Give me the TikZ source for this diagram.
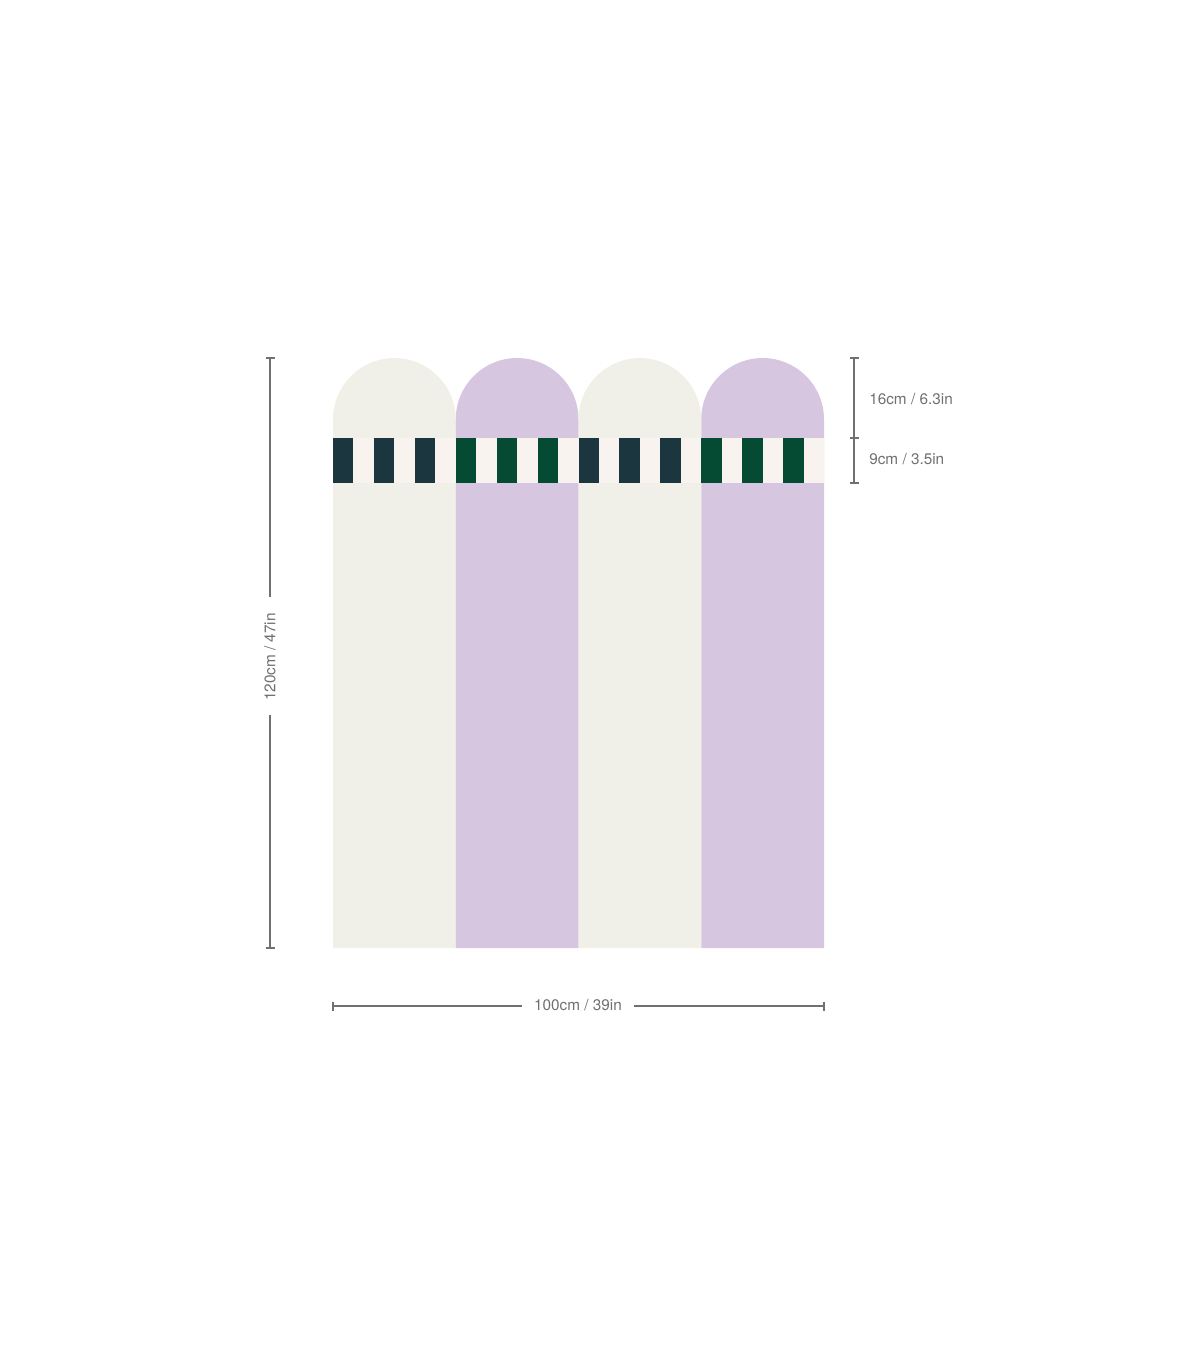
\documentclass[tikz,border=0pt]{standalone}
\usepackage{fontspec}
\setmainfont{TeX Gyre Heros}
\usepackage{xcolor}
\definecolor{cream}{RGB}{241,240,232}
\definecolor{lilac}{RGB}{214,198,224}
\definecolor{bandpink}{RGB}{249,243,240}
\definecolor{navy}{RGB}{28,54,64}
\definecolor{pine}{RGB}{5,74,50}
\definecolor{dimgrey}{RGB}{112,112,112}

\tikzset{
  dimline/.style={draw=dimgrey, line width=1.1pt},
  dimtext/.style={text=dimgrey, font=\fontsize{11.5}{13}\selectfont, inner sep=0pt},
  stripe/.style={draw=none}
}

\begin{document}
\begin{tikzpicture}[x=0.75pt,y=0.75pt,yscale=-1,xscale=1]
\useasboundingbox (0,0) rectangle (1200,1372);

%Shape: Arch panels
\fill[cream] (333,948) -- (333,419.4) arc (180:360:61.375) -- (455.75,948) -- cycle ;
\fill[lilac] (455.75,948) -- (455.75,419.4) arc (180:360:61.375) -- (578.5,948) -- cycle ;
\fill[cream] (578.5,948) -- (578.5,419.4) arc (180:360:61.375) -- (701.25,948) -- cycle ;
\fill[lilac] (701.25,948) -- (701.25,419.4) arc (180:360:61.375) -- (824,948) -- cycle ;

%Shape: Band
\fill[bandpink] (333,438) rectangle (824,483) ;

%Shape: Stripes
\fill[stripe, navy] (333,438) rectangle (353.46,483) ;
\fill[stripe, navy] (373.92,438) rectangle (394.38,483) ;
\fill[stripe, navy] (414.83,438) rectangle (435.29,483) ;
\fill[stripe, pine] (455.75,438) rectangle (476.21,483) ;
\fill[stripe, pine] (496.67,438) rectangle (517.13,483) ;
\fill[stripe, pine] (537.58,438) rectangle (558.04,483) ;
\fill[stripe, navy] (578.5,438) rectangle (598.96,483) ;
\fill[stripe, navy] (619.42,438) rectangle (639.88,483) ;
\fill[stripe, navy] (660.33,438) rectangle (680.79,483) ;
\fill[stripe, pine] (701.25,438) rectangle (721.71,483) ;
\fill[stripe, pine] (742.17,438) rectangle (762.63,483) ;
\fill[stripe, pine] (783.08,438) rectangle (803.54,483) ;

% Text Node
\node[dimtext, rotate=90] (height) at (270,657) {120cm / 47in};
% Text Node
\node[dimtext] (width) at (578,1005) {100cm / 39in};
% Text Node
\node[dimtext, anchor=west] (arch) at (869,399) {16cm / 6.3in};
% Text Node
\node[dimtext, anchor=west] (band) at (869,459) {9cm / 3.5in};

%Dimension: height
\coordinate (htop) at (270,358);
\coordinate (hbot) at (270,948);
\draw[dimline] (htop) -- (270,597) ;
\draw[dimline] (270,715) -- (hbot) ;
\draw[dimline] (265.5,358) -- (274.5,358) ;
\draw[dimline] (265.5,948) -- (274.5,948) ;

%Dimension: width
\coordinate (wleft) at (333,1006);
\coordinate (wright) at (824,1006);
\draw[dimline] (wleft) -- ([xshift=-9pt]width.west |- wleft) ;
\draw[dimline] ([xshift=9pt]width.east |- wright) -- (wright) ;
\draw[dimline] (333,1001.5) -- (333,1010.5) ;
\draw[dimline] (824,1001.5) -- (824,1010.5) ;

%Dimension: arch and band
\coordinate (rtop) at (854,358);
\coordinate (rmid) at (854,438);
\coordinate (rbot) at (854,483);
\draw[dimline] (rtop) -- (rmid) -- (rbot) ;
\draw[dimline] (849.5,358) -- (858.5,358) ;
\draw[dimline] (849.5,438) -- (858.5,438) ;
\draw[dimline] (849.5,483) -- (858.5,483) ;

\end{tikzpicture}
\end{document}
